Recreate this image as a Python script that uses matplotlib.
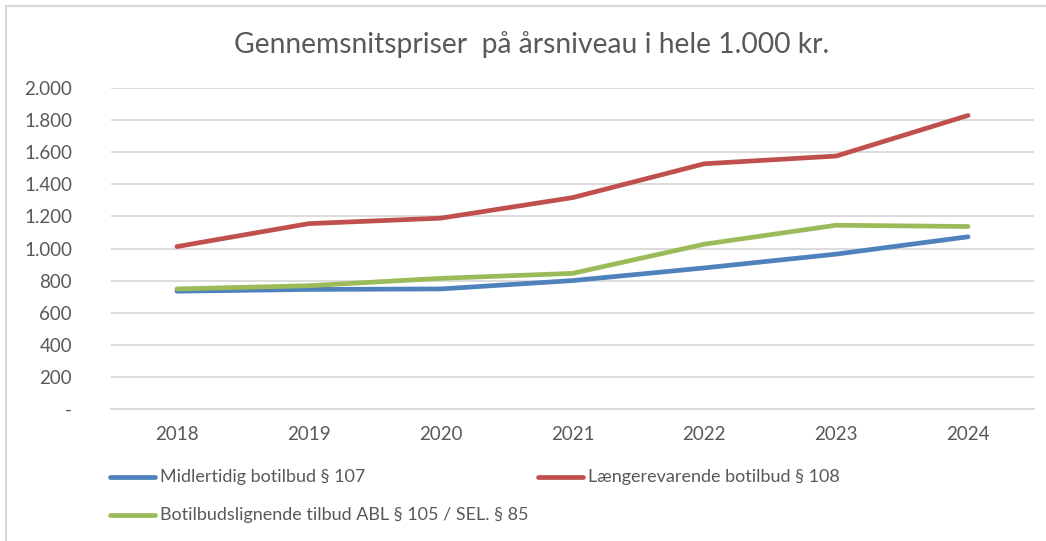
import matplotlib
matplotlib.use("Agg")
import matplotlib.pyplot as plt
from matplotlib.lines import Line2D

years = ["2018", "2019", "2020", "2021", "2022", "2023", "2024"]
midlertidig = [734, 745, 748, 800, 879, 965, 1073]
laengerevarende = [1012, 1155, 1189, 1317, 1528, 1576, 1829]
botilbudslignende = [748, 768, 814, 845, 1027, 1145, 1137]
series_names = ["Midlertidig botilbud § 107",
                "Længerevarende botilbud § 108",
                "Botilbudslignende tilbud ABL § 105 / SEL. § 85"]
y_ticks = [0, 200, 400, 600, 800, 1000, 1200, 1400, 1600, 1800, 2000]
y_tick_labels = ["-", "200", "400", "600", "800", "1.000", "1.200", "1.400",
                 "1.600", "1.800", "2.000"]
title = "Gennemsnitspriser  på årsniveau i hele 1.000 kr."

colors = ["#4f81bd", "#c0504d", "#9bbb59"]
W, H = 1046, 541
plt.rcParams['font.family'] = ['Lato', 'DejaVu Sans']
txt = "#595959"

fig = plt.figure(figsize=(W / 100, H / 100), dpi=100)
fig.patch.set_facecolor("white")

# outer border (top and left visible)
fig.add_artist(Line2D([6 / W, 6 / W], [0, 1 - 5.5 / H], transform=fig.transFigure,
                      color="#d9d9d9", lw=1.5))
fig.add_artist(Line2D([6 / W, 1], [1 - 5.5 / H, 1 - 5.5 / H], transform=fig.transFigure,
                      color="#d9d9d9", lw=1.5))

left, right, top, bottom = 111, 1034, 88, 409
ax = fig.add_axes([left / W, 1 - bottom / H, (right - left) / W, (bottom - top) / H])
x = list(range(len(years)))
for vals, c in zip([midlertidig, laengerevarende, botilbudslignende], colors):
    ax.plot(x, vals, color=c, lw=3.4, solid_capstyle="round", solid_joinstyle="round", zorder=3)

ax.set_xlim(-0.5, len(years) - 0.5)
ax.set_ylim(0, 2000)
ax.set_yticks(y_ticks)
ax.set_yticklabels(y_tick_labels)
ax.set_xticks(x)
ax.set_xticklabels(years)
ax.grid(axis="y", color="#d9d9d9", lw=1.3, zorder=0)
for s in ["top", "right", "left"]:
    ax.spines[s].set_visible(False)
ax.spines["bottom"].set_color("#d9d9d9")
ax.spines["bottom"].set_linewidth(1.3)
ax.tick_params(axis="both", length=0, labelsize=13.5, labelcolor=txt)
ax.tick_params(axis="y", pad=28)
ax.tick_params(axis="x", pad=12)

fig.text(532 / W, 1 - 45 / H, title, ha="center", va="center", fontsize=20.3, color=txt)

# legend
leg_items = [(110, 477), (538, 477), (110, 515)]
for (lx, ly), name, c in zip(leg_items, series_names, colors):
    fig.add_artist(Line2D([lx / W, (lx + 45) / W], [1 - ly / H, 1 - ly / H],
                          transform=fig.transFigure, color=c, lw=3.4, solid_capstyle="round"))
    fig.text((lx + 50) / W, 1 - ly / H, name, ha="left", va="center", fontsize=13, color=txt)

fig.savefig("out.png", dpi=100)
